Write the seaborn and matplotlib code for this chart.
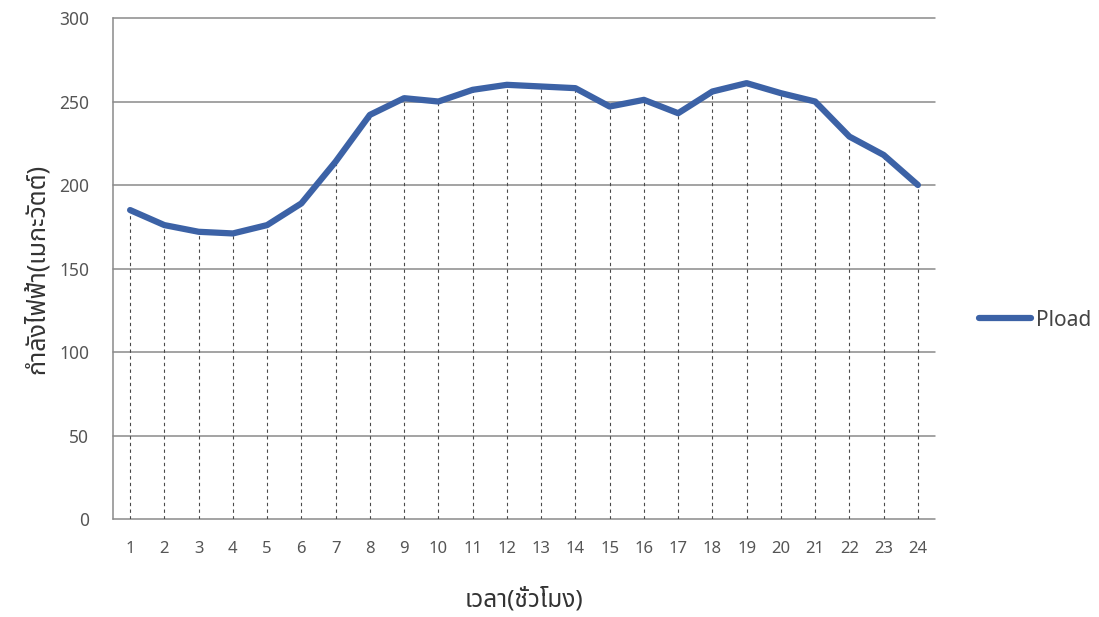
import matplotlib
matplotlib.use("Agg")
import matplotlib.pyplot as plt
import seaborn as sns
import pandas as pd

# Hourly electrical load (MW)
hours = list(range(1, 25))
pload = [185, 176, 172, 171, 176, 189, 214, 242, 252, 250, 257, 260,
         259, 258, 247, 251, 243, 256, 261, 255, 250, 229, 218, 200]
y_ticks = [0, 50, 100, 150, 200, 250, 300]
x_label = "เวลา(ชั่วโมง)"
y_label = "กำลังไฟฟ้า(เมกะวัตต์)"
series_name = "Pload"

sns.set_style("white")
thai_family = ["Noto Sans Thai", "Noto Sans Thai UI", "Loma", "Garuda",
               "Tlwg Typo", "Norasi", "Noto Sans", "DejaVu Sans"]
plt.rcParams["font.family"] = thai_family

df = pd.DataFrame({"hour": hours, "load": pload})

fig = plt.figure(figsize=(10.99, 6.17), dpi=100)
ax = fig.add_axes([0.1028, 0.1588, 0.748, 0.812])

grid_c = "#8a8a8a"
for v in y_ticks:
    ax.axhline(v, color=grid_c, lw=1.1, zorder=1, clip_on=False)

# dashed drop lines from each hourly point to the baseline
ax.vlines(df["hour"], 0, df["load"], colors="#4a4a4a", linestyles=(0, (3, 3)),
          lw=0.8, zorder=2)

sns.lineplot(data=df, x="hour", y="load", ax=ax, color="#3c62a6", lw=4.5,
             label=series_name, zorder=3, solid_capstyle="round")

ax.set_xlim(0.5, 24.5)
ax.set_ylim(0, 300)
ax.set_xticks(hours)
ax.set_yticks(y_ticks)
ax.tick_params(axis="x", length=0, pad=16, labelsize=12, labelcolor="#555555")
ax.tick_params(axis="y", length=6, width=1.1, color=grid_c, pad=11,
               labelsize=12.5, labelcolor="#555555")

for s in ["top", "right", "bottom"]:
    ax.spines[s].set_visible(False)
ax.spines["left"].set_color(grid_c)
ax.spines["left"].set_linewidth(1.1)

ax.set_xlabel(x_label, fontsize=17.5, color="#333333", labelpad=22)
ax.set_ylabel(y_label, fontsize=18, color="#333333", labelpad=7)

leg = ax.legend(loc="center left", bbox_to_anchor=(1.053, 0.397), frameon=False,
                fontsize=15, handlelength=2.5, handletextpad=0.25,
                borderaxespad=0, borderpad=0)
for t in leg.get_texts():
    t.set_color("#444444")

fig.savefig("out.png", dpi=100)
